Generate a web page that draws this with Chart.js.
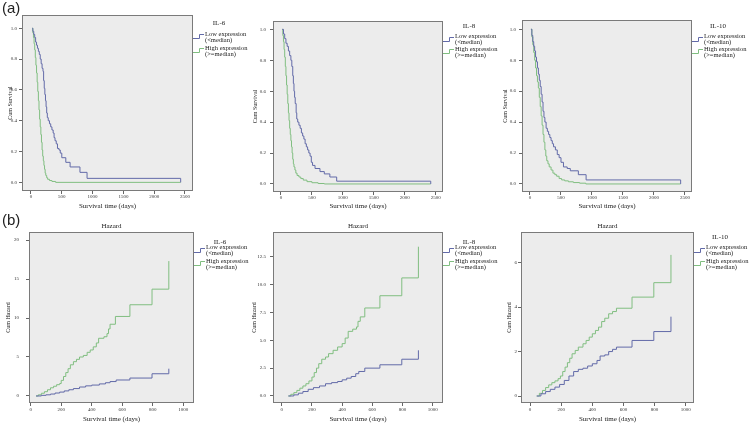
<!DOCTYPE html>
<html>
<head>
<meta charset="utf-8">
<script src="https://cdn.jsdelivr.net/npm/chart.js@4.4.1/dist/chart.umd.min.js"></script>
<style>
  body { margin: 0; background: #fff; width: 749px; height: 423px; position: relative; overflow: hidden; }
  canvas { position: absolute; }
  .tag { position: absolute; z-index: 2; font-family: "Liberation Sans", Arial, sans-serif; font-size: 15px; color: #222; line-height: 15px; }
</style>
</head>
<body>
<div class="tag" style="left:2px;top:0px">(a)</div>
<div class="tag" style="left:2px;top:212px">(b)</div>

<canvas id="survIL6" width="249" height="212" style="left:0px;top:0px"></canvas>
<canvas id="survIL8" width="250" height="212" style="left:249px;top:0px"></canvas>
<canvas id="survIL10" width="250" height="212" style="left:499px;top:0px"></canvas>
<canvas id="hazIL6" width="249" height="211" style="left:0px;top:212px"></canvas>
<canvas id="hazIL8" width="250" height="211" style="left:249px;top:212px"></canvas>
<canvas id="hazIL10" width="250" height="211" style="left:499px;top:212px"></canvas>

<script>
// tick labels
var survDayTicks = [0, 500, 1000, 1500, 2000, 2500];
var survTicks = [0, 0.2, 0.4, 0.6, 0.8, 1.0];
var hazDayTicks = [0, 200, 400, 600, 800, 1000];
var il6HazTicks = [0, 5, 10, 15, 20];
var il8HazTicks = [0, 2.5, 5, 7.5, 10, 12.5];
var il10HazTicks = [0, 2, 4, 6];

// (a) cumulative survival, [day, value]
var il6SurvLow = [[20,1.0],[30,0.98],[45,0.96],[60,0.94],[75,0.91],[90,0.89],[105,0.87],[120,0.85],[135,0.83],[150,0.80],[165,0.77],[180,0.74],[195,0.72],[205,0.66],[215,0.61],[225,0.57],[235,0.53],[245,0.49],[255,0.45],[265,0.42],[280,0.40],[300,0.38],[320,0.36],[340,0.34],[360,0.32],[375,0.29],[390,0.27],[410,0.25],[430,0.22],[455,0.21],[475,0.19],[500,0.16],[565,0.13],[635,0.10],[795,0.065],[910,0.026],[2430,0.0]];
var il6SurvHigh = [[20,1.0],[30,0.97],[40,0.94],[50,0.90],[60,0.86],[70,0.81],[80,0.76],[90,0.71],[100,0.65],[110,0.59],[120,0.53],[130,0.47],[140,0.41],[150,0.36],[160,0.31],[170,0.26],[180,0.21],[190,0.17],[200,0.14],[210,0.11],[220,0.085],[230,0.06],[240,0.045],[255,0.03],[270,0.02],[300,0.012],[340,0.006],[400,0.0],[2430,0.0]];
var il8SurvLow = [[20,1.0],[40,0.97],[60,0.94],[80,0.91],[100,0.89],[120,0.86],[140,0.83],[160,0.80],[175,0.76],[190,0.70],[200,0.65],[210,0.60],[220,0.56],[230,0.52],[245,0.46],[255,0.42],[270,0.40],[290,0.38],[310,0.36],[330,0.33],[350,0.31],[370,0.29],[390,0.26],[410,0.24],[430,0.22],[450,0.20],[470,0.18],[490,0.14],[510,0.12],[550,0.10],[630,0.08],[700,0.065],[790,0.045],[900,0.018],[2420,0.0]];
var il8SurvHigh = [[20,1.0],[30,0.96],[40,0.92],[50,0.87],[60,0.82],[70,0.76],[80,0.70],[90,0.64],[100,0.58],[110,0.52],[120,0.46],[130,0.41],[140,0.36],[150,0.32],[160,0.28],[170,0.24],[180,0.20],[190,0.16],[200,0.13],[210,0.11],[225,0.09],[240,0.07],[260,0.055],[290,0.045],[320,0.035],[360,0.025],[420,0.015],[500,0.008],[600,0.003],[700,0.0],[2420,0.0]];
var il10SurvLow = [[15,1.0],[30,0.96],[45,0.92],[60,0.89],[75,0.86],[90,0.82],[105,0.79],[120,0.75],[135,0.71],[150,0.67],[165,0.63],[180,0.58],[195,0.53],[210,0.47],[225,0.43],[240,0.40],[260,0.36],[280,0.34],[300,0.32],[320,0.30],[340,0.28],[360,0.26],[380,0.24],[410,0.22],[440,0.19],[470,0.17],[500,0.14],[540,0.11],[600,0.10],[650,0.085],[780,0.06],[905,0.026],[2430,0.0]];
var il10SurvHigh = [[15,1.0],[30,0.95],[45,0.90],[60,0.85],[75,0.80],[90,0.75],[105,0.70],[120,0.66],[135,0.62],[150,0.56],[165,0.50],[180,0.44],[195,0.38],[210,0.32],[225,0.27],[240,0.22],[255,0.18],[270,0.15],[290,0.13],[310,0.11],[340,0.09],[370,0.07],[400,0.06],[430,0.05],[470,0.035],[510,0.026],[560,0.02],[620,0.014],[700,0.009],[800,0.005],[900,0.0],[2430,0.0]];

// (b) cumulative hazard, [day, value]
var il6HazLow = [[35,0],[70,0.08],[100,0.15],[130,0.25],[160,0.38],[190,0.5],[220,0.65],[250,0.8],[280,0.95],[320,1.15],[360,1.3],[400,1.4],[450,1.55],[490,1.7],[520,1.85],[560,2.05],[650,2.3],[795,2.85],[905,3.5]];
var il6HazHigh = [[35,0],[50,0.15],[70,0.35],[90,0.55],[110,0.8],[130,1.05],[150,1.25],[170,1.45],[190,1.6],[200,2.0],[215,2.5],[230,3.0],[245,3.5],[260,4.0],[280,4.4],[300,4.7],[320,5.0],[345,5.2],[370,5.6],[390,5.9],[410,6.3],[430,6.8],[445,7.4],[480,7.6],[500,8.0],[510,8.6],[520,9.2],[555,10.2],[650,11.7],[795,13.7],[905,17.3]];
var il8HazLow = [[44,0],[80,0.1],[110,0.25],[140,0.4],[175,0.6],[210,0.75],[250,0.9],[290,1.1],[330,1.2],[370,1.3],[400,1.45],[430,1.6],[460,1.75],[490,2.0],[510,2.2],[550,2.5],[650,2.8],[795,3.3],[905,4.1]];
var il8HazHigh = [[44,0],[60,0.15],[80,0.3],[100,0.5],[120,0.7],[140,0.9],[160,1.1],[180,1.35],[200,1.7],[215,2.1],[230,2.5],[245,2.9],[265,3.3],[290,3.5],[310,3.8],[340,4.1],[370,4.4],[400,4.7],[420,5.2],[440,5.8],[470,6.0],[495,6.2],[505,6.7],[520,7.1],[550,7.9],[650,9.0],[795,10.6],[905,13.4]];
var il10HazLow = [[43,0],[70,0.1],[100,0.2],[130,0.3],[160,0.4],[190,0.52],[220,0.7],[250,0.9],[280,1.1],[310,1.2],[340,1.25],[370,1.35],[400,1.45],[430,1.6],[450,1.8],[480,1.85],[505,2.0],[530,2.1],[555,2.2],[655,2.5],[795,2.9],[905,3.57]];
var il10HazHigh = [[43,0],[60,0.12],[80,0.25],[100,0.38],[120,0.5],[140,0.6],[160,0.68],[180,0.78],[195,0.9],[210,1.1],[225,1.3],[240,1.5],[255,1.7],[270,1.9],[290,2.05],[310,2.2],[340,2.35],[360,2.5],[380,2.65],[400,2.8],[420,2.95],[440,3.1],[460,3.35],[480,3.5],[505,3.7],[530,3.8],[555,3.95],[655,4.45],[795,5.1],[905,6.35]];

var lowColor = 'rgb(98,106,168)';
var highColor = 'rgb(128,190,128)';
var serif = '"Liberation Serif", "Times New Roman", serif';

// plot frame, key on the right and the "Hazard" title, drawn like SPSS does
var spssFrame = {
  id: 'spssFrame',
  beforeDraw: function(chart) {
    var a = chart.chartArea, ctx = chart.ctx;
    ctx.save();
    ctx.fillStyle = '#ececec';
    ctx.fillRect(a.left, a.top, a.right - a.left, a.bottom - a.top);
    ctx.restore();
  },
  afterDraw: function(chart, args, o) {
    var a = chart.chartArea, ctx = chart.ctx;
    ctx.save();
    ctx.strokeStyle = '#7a7a7a';
    ctx.lineWidth = 1;
    ctx.strokeRect(a.left + 0.5, a.top + 0.5, a.right - a.left - 1, a.bottom - a.top - 1);

    ctx.fillStyle = '#222';
    ctx.textBaseline = 'middle';
    if (o.title) {
      ctx.font = '7px ' + serif;
      ctx.textAlign = 'center';
      ctx.fillText(o.title, (a.left + a.right) / 2, a.top - 5.5);
    }
    ctx.font = '7px ' + serif;
    ctx.textAlign = 'center';
    ctx.fillText(o.name, a.right + 26, o.keyY[0]);
    ctx.font = '6.5px ' + serif;
    ctx.textAlign = 'left';
    var texts = ['Low expression', '(<median)', 'High expression', '(>=median)'];
    for (var i = 0; i < 4; i++) ctx.fillText(texts[i], a.right + 12, o.keyY[i + 1]);

    var icons = [[o.keyY[1], lowColor], [o.keyY[3], highColor]];
    icons.forEach(function(ic) {
      var y = Math.round(ic[0]) + 0.5;
      ctx.strokeStyle = ic[1];
      ctx.beginPath();
      ctx.moveTo(a.right, y + 4);
      ctx.lineTo(a.right + 6.5, y + 4);
      ctx.lineTo(a.right + 6.5, y);
      ctx.lineTo(a.right + 11, y);
      ctx.stroke();
    });
    ctx.restore();
  }
};

function pts(pairs) {
  return pairs.map(function(p) { return {x: p[0], y: p[1]}; });
}

function makePanel(id, s) {
  var cv = document.getElementById(id);
  var W = cv.width, H = cv.height, f = s.frame;
  var tickGrid = {display: true, drawOnChartArea: false, drawTicks: true, tickLength: 3, color: '#666'};
  return new Chart(cv, {
    type: 'line',
    data: {
      datasets: [
        {label: 'Low expression (<median)', data: pts(s.low), borderColor: lowColor, borderWidth: 1, pointRadius: 0, stepped: true, fill: false},
        {label: 'High expression (>=median)', data: pts(s.high), borderColor: highColor, borderWidth: 1, pointRadius: 0, stepped: true, fill: false}
      ]
    },
    plugins: [spssFrame],
    options: {
      responsive: false,
      animation: false,
      events: [],
      layout: {padding: {left: 0, top: f[1], right: W - f[2], bottom: 0}},
      plugins: {
        legend: {display: false},
        tooltip: {enabled: false},
        spssFrame: {name: s.name, title: s.title, keyY: s.keyY}
      },
      scales: {
        x: {
          type: 'linear', min: s.xMin, max: s.xMax,
          afterBuildTicks: function(sc) { sc.ticks = s.xTicks.map(function(v) { return {value: v}; }); },
          afterFit: function(sc) { sc.height = H - f[3]; sc.paddingLeft = 0; sc.paddingRight = 0; },
          grid: tickGrid,
          border: {display: false},
          ticks: {autoSkip: false, maxRotation: 0, padding: s.xTickPad, color: '#333', font: {family: serif, size: 5},
                  callback: function(v) { return String(v); }},
          title: {display: true, text: 'Survival time (days)', color: '#222',
                  font: {family: serif, size: 7, lineHeight: s.xTitleLH}, padding: {top: 0, bottom: s.xTitlePad}}
        },
        y: {
          type: 'linear', min: s.yMin, max: s.yMax,
          afterBuildTicks: function(sc) { sc.ticks = s.yTicks.map(function(v) { return {value: v}; }); },
          afterFit: function(sc) { sc.width = f[0]; sc.paddingTop = 0; sc.paddingBottom = 0; },
          grid: tickGrid,
          border: {display: false},
          ticks: {autoSkip: false, padding: s.yTickPad, color: '#333', font: {family: serif, size: 5},
                  callback: s.yFmt},
          title: {display: true, text: s.yTitle, color: '#222',
                  font: {family: serif, size: 6, lineHeight: 1.2}, padding: {top: s.yTitlePad, bottom: 0}}
        }
      }
    }
  });
}

function oneDec(v) { return v.toFixed(1); }
function whole(v) { return String(v); }

makePanel('survIL6', {name: 'IL-6', low: il6SurvLow, high: il6SurvHigh, frame: [22, 15, 193, 191],
  xMin: -146, xMax: 2630, yMin: -0.056, yMax: 1.086, xTicks: survDayTicks, yTicks: survTicks, yFmt: oneDec,
  yTitle: 'Cum Survival', yTitlePad: 7, yTickPad: 2, xTickPad: 0, xTitlePad: 2, xTitleLH: 1.2,
  keyY: [23.3, 34.3, 40.7, 48, 54.3]});
makePanel('survIL8', {name: 'IL-8', low: il8SurvLow, high: il8SurvHigh, frame: [24, 21, 194, 192],
  xMin: -129, xMax: 2618, yMin: -0.052, yMax: 1.054, xTicks: survDayTicks, yTicks: survTicks, yFmt: oneDec,
  yTitle: 'Cum Survival', yTitlePad: 3, yTickPad: 4, xTickPad: 0, xTitlePad: 2, xTitleLH: 1.2,
  keyY: [26, 36.7, 42.7, 49.3, 55.7]});
makePanel('survIL10', {name: 'IL-10', low: il10SurvLow, high: il10SurvHigh, frame: [23, 20, 193, 192],
  xMin: -129, xMax: 2613, yMin: -0.052, yMax: 1.06, xTicks: survDayTicks, yTicks: survTicks, yFmt: oneDec,
  yTitle: 'Cum Survival', yTitlePad: 3, yTickPad: 3, xTickPad: 0, xTitlePad: 2, xTitleLH: 1.2,
  keyY: [26, 36.7, 42.7, 49.3, 55.7]});

makePanel('hazIL6', {name: 'IL-6', title: 'Hazard', low: il6HazLow, high: il6HazHigh, frame: [29, 20, 194, 191],
  xMin: -11, xMax: 1070, yMin: -0.9, yMax: 21.03, xTicks: hazDayTicks, yTicks: il6HazTicks, yFmt: whole,
  yTitle: 'Cum Hazard', yTitlePad: 5, yTickPad: 7, xTickPad: 1, xTitlePad: 0, xTitleLH: 1,
  keyY: [30.3, 35.7, 41.7, 49, 55.3]});
makePanel('hazIL8', {name: 'IL-8', title: 'Hazard', low: il8HazLow, high: il8HazHigh, frame: [24, 20, 194, 191],
  xMin: -58, xMax: 1068, yMin: -0.63, yMax: 14.72, xTicks: hazDayTicks, yTicks: il8HazTicks, yFmt: oneDec,
  yTitle: 'Cum Hazard', yTitlePad: 2, yTickPad: 4, xTickPad: 1, xTitlePad: 0, xTitleLH: 1,
  keyY: [30.3, 35.7, 41.7, 49, 55.3]});
makePanel('hazIL10', {name: 'IL-10', title: 'Hazard', low: il10HazLow, high: il10HazHigh, frame: [22, 20, 195, 191],
  xMin: -58, xMax: 1053, yMin: -0.315, yMax: 7.38, xTicks: hazDayTicks, yTicks: il10HazTicks, yFmt: whole,
  yTitle: 'Cum Hazard', yTitlePad: 7, yTickPad: 1, xTickPad: 1, xTitlePad: 0, xTitleLH: 1,
  keyY: [25.3, 35.7, 41.7, 49, 55.3]});
</script>
</body>
</html>
